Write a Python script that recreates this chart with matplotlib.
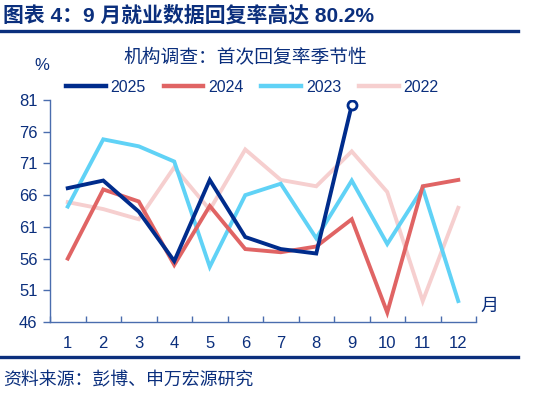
import matplotlib
matplotlib.use("Agg")

import matplotlib.pyplot as plt
from matplotlib.lines import Line2D

months = list(range(1, 13))
month_labels = [str(m) for m in months]

s2025 = [67.1, 68.3, 63.4, 55.6, 68.4, 59.4, 57.5, 56.8, 80.2]
s2024 = [56.0, 66.9, 65.0, 55.0, 64.3, 57.5, 57.0, 57.9, 62.2, 47.5, 67.4, 68.4]
s2023 = [64.2, 74.8, 73.7, 71.3, 54.7, 66.0, 67.8, 59.2, 68.3, 58.3, 67.1, 49.3]
s2022 = [64.9, 63.8, 62.2, 70.4, 63.7, 73.2, 68.4, 67.4, 72.9, 66.5, 49.3, 64.0]

yticks = [46, 51, 56, 61, 66, 71, 76, 81]

NAVY = "#0B2F7D"
AXIS = "#4A6DAE"
COLORS = {
    "2025": "#002C8C",
    "2024": "#E06464",
    "2023": "#60D2F6",
    "2022": "#F6CFCF",
}
FONT = ["Liberation Sans", "Noto Sans CJK SC"]
plt.rcParams["font.family"] = FONT

W, H = 543, 395
fig = plt.figure(figsize=(W / 100, H / 100), dpi=100)

ax = fig.add_axes([50 / W, 1 - 322 / H, (476 - 50) / W, (322 - 100) / H])

ax.plot(months, s2022, color=COLORS["2022"], lw=2.8, solid_joinstyle="miter")
ax.plot(months, s2023, color=COLORS["2023"], lw=2.8, solid_joinstyle="miter")
ax.plot(months, s2024, color=COLORS["2024"], lw=2.8, solid_joinstyle="miter")
ax.plot(months[:len(s2025)], s2025, color=COLORS["2025"], lw=2.8, solid_joinstyle="miter")
ax.plot([months[len(s2025) - 1]], [s2025[-1]], marker="o", ms=6.5, mfc="white",
        mec=COLORS["2025"], mew=2.0, ls="none")

ax.set_xlim(0.5, 12.5)
ax.set_ylim(46, 81)
ax.set_yticks(yticks)
ax.set_yticklabels([str(t) for t in yticks], fontsize=12, color=NAVY)
ax.set_xticks([m + 0.5 for m in [0] + months])
ax.set_xticklabels([])
ax.set_xticks(months, minor=True)
ax.set_xticklabels(month_labels, minor=True, fontsize=12, color=NAVY)
ax.tick_params(axis="x", which="major", direction="in", length=4, color=AXIS, width=1)
ax.tick_params(axis="x", which="minor", length=0, pad=10)
ax.tick_params(axis="y", direction="out", length=5, color=AXIS, width=1, pad=4)

for side in ("top", "right"):
    ax.spines[side].set_visible(False)
for side in ("left", "bottom"):
    ax.spines[side].set_color(AXIS)
    ax.spines[side].set_linewidth(1)

# legend
handles = [Line2D([], [], color=COLORS[k], lw=3.2) for k in COLORS]
fig.legend(handles, list(COLORS), loc="center left", bbox_to_anchor=(66 / W, 1 - 87 / H),
           ncol=4, frameon=False, fontsize=11.5, handlelength=2.5, handletextpad=0.3,
           columnspacing=1.1, borderpad=0, borderaxespad=0, labelcolor=NAVY)

# texts
fig.text(3 / W, 1 - 15 / H, "图表 4：9 月就业数据回复率高达 80.2%", fontsize=15,
         fontweight="bold", color=NAVY, ha="left", va="center")
fig.add_artist(Line2D([0, 518 / W], [1 - 31 / H, 1 - 31 / H], color=NAVY, lw=2.4))
fig.text(245 / W, 1 - 57 / H, "机构调查：首次回复率季节性", fontsize=13.5, color=NAVY,
         ha="center", va="center")
fig.text(42 / W, 1 - 65 / H, "%", fontsize=12, color=NAVY, ha="center", va="center")
fig.text(489 / W, 1 - 306 / H, "月", fontsize=13, color=NAVY, ha="center", va="center")
fig.add_artist(Line2D([0, 518 / W], [1 - 357 / H, 1 - 357 / H], color=NAVY, lw=2.4))
fig.text(3 / W, 1 - 381 / H, "资料来源：彭博、申万宏源研究", fontsize=12.9, color=NAVY,
         ha="left", va="center")

fig.savefig("out.png", dpi=100)
